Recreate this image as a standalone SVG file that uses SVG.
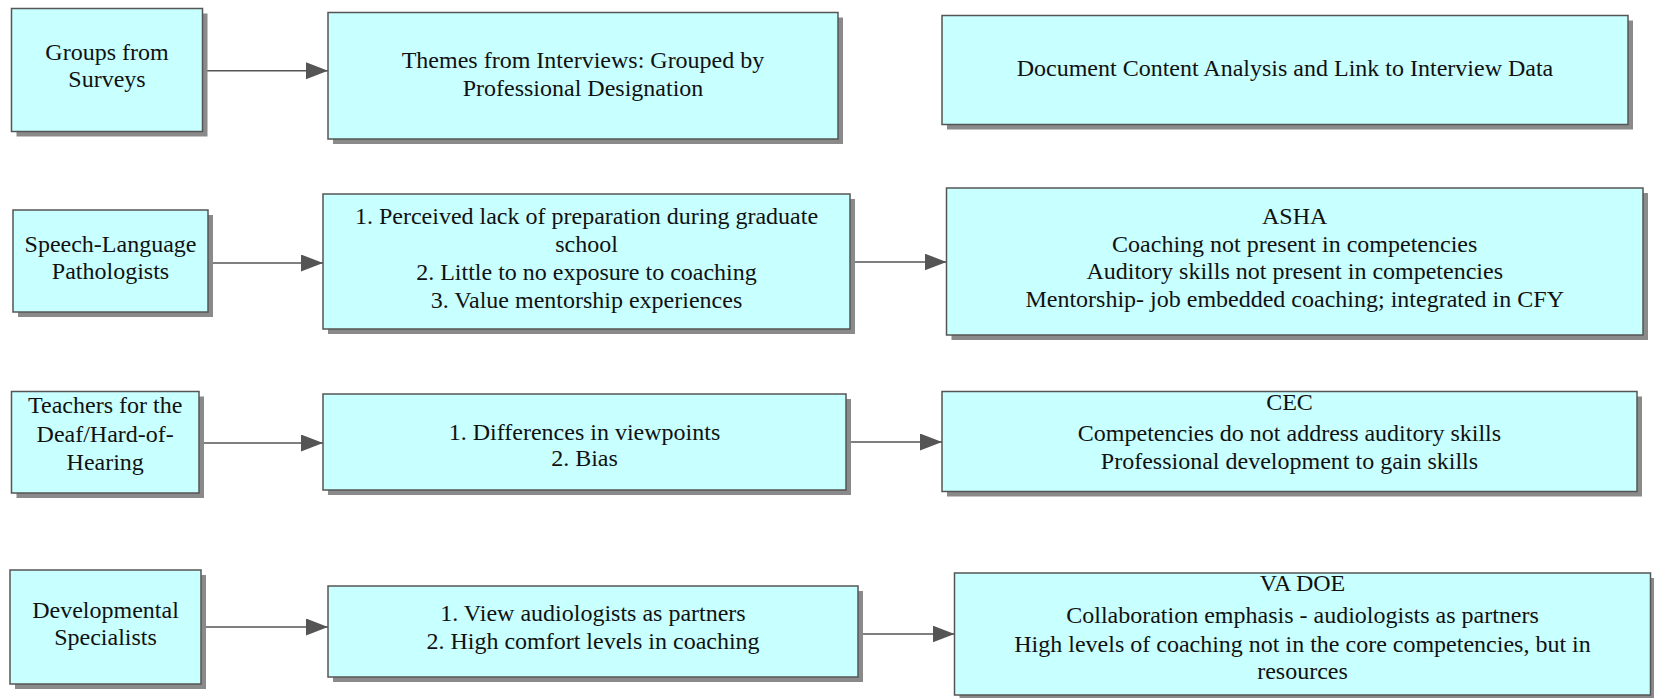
<svg xmlns="http://www.w3.org/2000/svg" width="1654" height="698" viewBox="0 0 1654 698">
<style>
.box{fill:#c8ffff;stroke:#555;stroke-width:1.5}
.sh{fill:#8a8a8a}
.t{font-family:'Liberation Serif','DejaVu Serif',serif;font-size:24px;fill:#111;text-anchor:middle}
.conn line{stroke:#555;stroke-width:1.6}
</style>
<defs>
<marker id="ah" markerUnits="userSpaceOnUse" markerWidth="24" markerHeight="18" refX="22" refY="8.5" orient="auto">
<path d="M0,0 L22,8.5 L0,17 Z" fill="#555"/>
</marker>
</defs>
<g class="conn">
<line x1="202.5" y1="70.7" x2="328" y2="70.7" marker-end="url(#ah)"/>
<line x1="208" y1="263" x2="323" y2="263" marker-end="url(#ah)"/>
<line x1="850" y1="262" x2="946.5" y2="262" marker-end="url(#ah)"/>
<line x1="199" y1="443" x2="323" y2="443" marker-end="url(#ah)"/>
<line x1="846" y1="442" x2="942" y2="442" marker-end="url(#ah)"/>
<line x1="201" y1="627" x2="328" y2="627" marker-end="url(#ah)"/>
<line x1="858" y1="634" x2="954.5" y2="634" marker-end="url(#ah)"/>
</g>
<g class="t" font-family="Liberation Serif, DejaVu Serif, serif">
<g id="groups">
<rect class="sh" x="16.5" y="13.5" width="191" height="123"/>
<rect class="box" x="11.5" y="8.5" width="191" height="123"/>
<text x="107" y="60">Groups from</text>
<text x="107" y="87">Surveys</text>
</g>
<g id="themes">
<rect class="sh" x="333" y="17.5" width="510" height="126.5"/>
<rect class="box" x="328" y="12.5" width="510" height="126.5"/>
<text x="583" y="68">Themes from Interviews: Grouped by</text>
<text x="583" y="95.5">Professional Designation</text>
</g>
<g id="document">
<rect class="sh" x="947" y="20.5" width="686" height="109"/>
<rect class="box" x="942" y="15.5" width="686" height="109"/>
<text x="1285" y="75.5">Document Content Analysis and Link to Interview Data</text>
</g>
<g id="slp">
<rect class="sh" x="18" y="215" width="195" height="102"/>
<rect class="box" x="13" y="210" width="195" height="102"/>
<text x="110.5" y="252">Speech-Language</text>
<text x="110.5" y="279">Pathologists</text>
</g>
<g id="slp-themes">
<rect class="sh" x="328" y="199" width="527" height="135"/>
<rect class="box" x="323" y="194" width="527" height="135"/>
<text x="586.5" y="224">1. Perceived lack of preparation during graduate</text>
<text x="586.5" y="252">school</text>
<text x="586.5" y="280">2. Little to no exposure to coaching</text>
<text x="586.5" y="307.5">3. Value mentorship experiences</text>
</g>
<g id="asha">
<rect class="sh" x="951.5" y="193" width="696.5" height="147"/>
<rect class="box" x="946.5" y="188" width="696.5" height="147"/>
<text x="1294.7" y="224">ASHA</text>
<text x="1294.7" y="251.5">Coaching not present in competencies</text>
<text x="1294.7" y="279">Auditory skills not present in competencies</text>
<text x="1294.7" y="306.5">Mentorship- job embedded coaching; integrated in CFY</text>
</g>
<g id="tdhh">
<rect class="sh" x="16.5" y="396.5" width="187.5" height="101.5"/>
<rect class="box" x="11.5" y="391.5" width="187.5" height="101.5"/>
<text x="105.2" y="413">Teachers for the</text>
<text x="105.2" y="441.5">Deaf/Hard-of-</text>
<text x="105.2" y="470">Hearing</text>
</g>
<g id="tdhh-themes">
<rect class="sh" x="328" y="399" width="523" height="96"/>
<rect class="box" x="323" y="394" width="523" height="96"/>
<text x="584.5" y="439.5">1. Differences in viewpoints</text>
<text x="584.5" y="466">2. Bias</text>
</g>
<g id="cec">
<rect class="sh" x="947" y="396.5" width="695" height="100"/>
<rect class="box" x="942" y="391.5" width="695" height="100"/>
<text x="1289.5" y="410">CEC</text>
<text x="1289.5" y="440.5">Competencies do not address auditory skills</text>
<text x="1289.5" y="469">Professional development to gain skills</text>
</g>
<g id="ds">
<rect class="sh" x="15" y="575" width="191" height="114"/>
<rect class="box" x="10" y="570" width="191" height="114"/>
<text x="105.5" y="618">Developmental</text>
<text x="105.5" y="645">Specialists</text>
</g>
<g id="ds-themes">
<rect class="sh" x="333" y="591" width="530" height="91"/>
<rect class="box" x="328" y="586" width="530" height="91"/>
<text x="593" y="621">1. View audiologists as partners</text>
<text x="593" y="649">2. High comfort levels in coaching</text>
</g>
<g id="vadoe">
<rect class="sh" x="959.5" y="578" width="696" height="122"/>
<rect class="box" x="954.5" y="573" width="696" height="122"/>
<text x="1302.5" y="591">VA DOE</text>
<text x="1302.5" y="623">Collaboration emphasis - audiologists as partners</text>
<text x="1302.5" y="652">High levels of coaching not in the core competencies, but in</text>
<text x="1302.5" y="679">resources</text>
</g>
</g>
</svg>
